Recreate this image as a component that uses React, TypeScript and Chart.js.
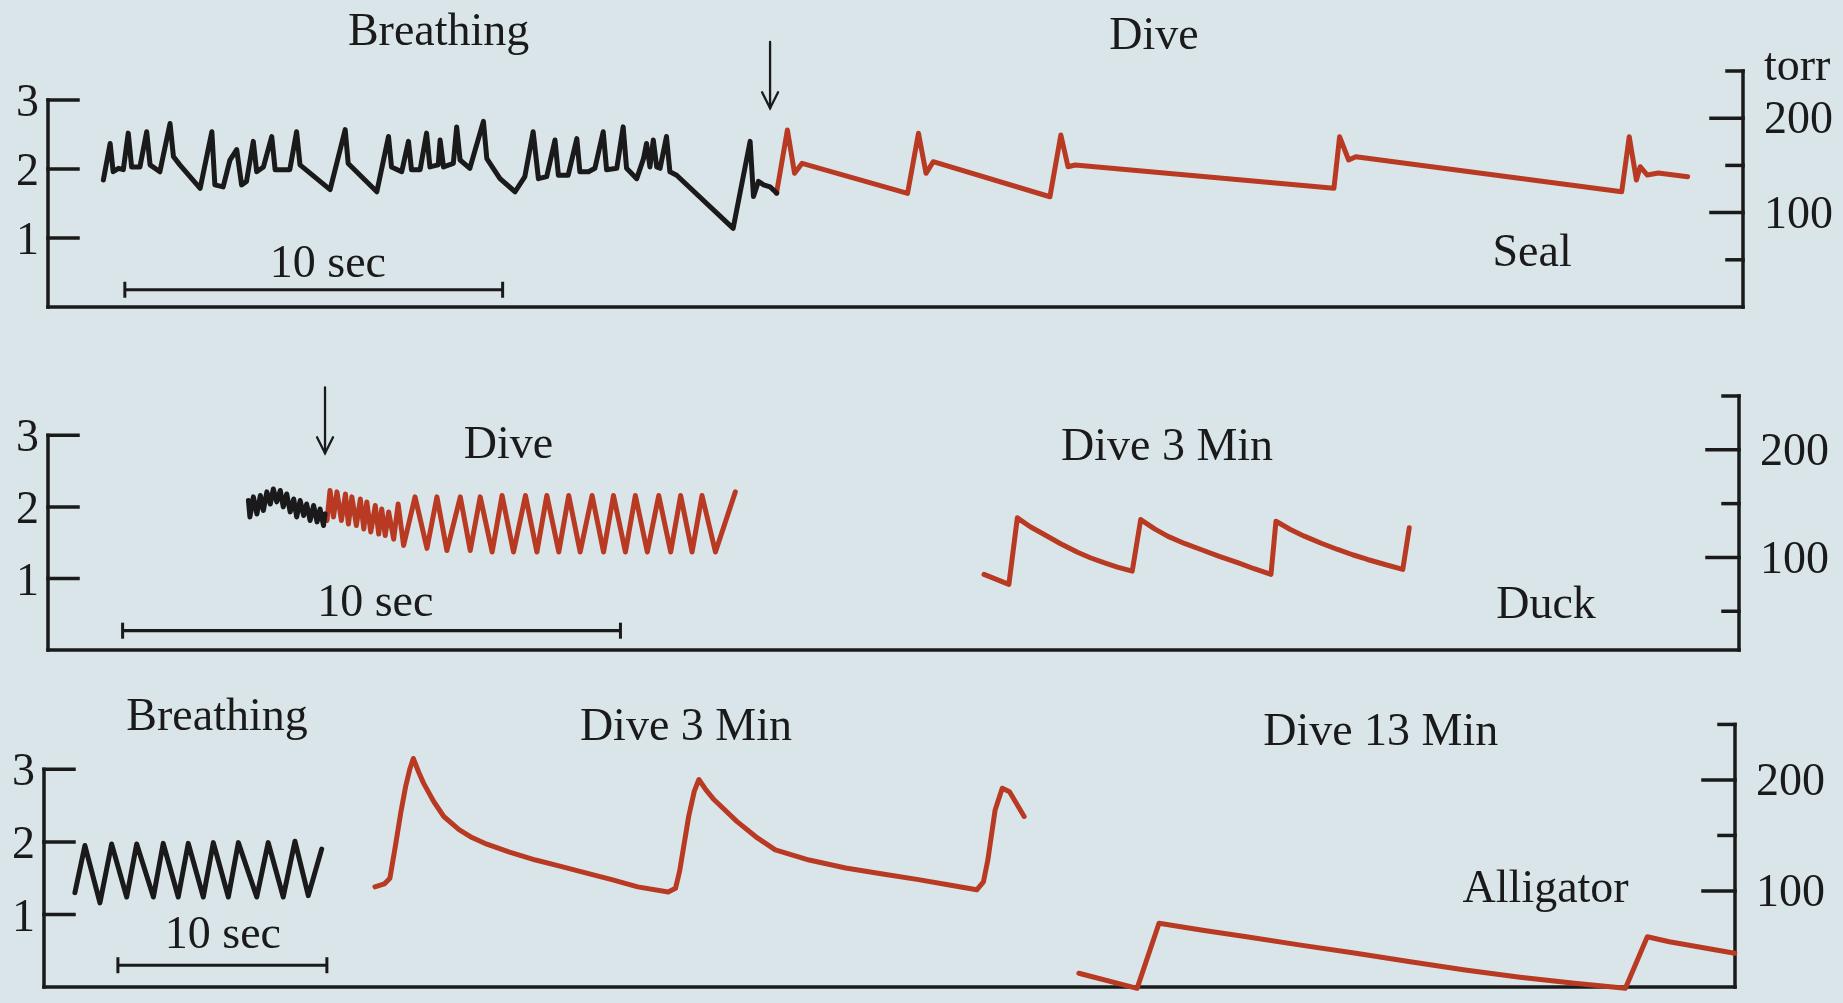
import React, { useEffect, useRef } from "react";
import { Chart, registerables } from "chart.js";

Chart.register(...registerables);

type Pt = [number, number];

// ---------------- Seal (time in s, left axis units / torr) ----------------
const sealBreathing: Pt[] = [
  [1.47, 1.84], [1.65, 2.37], [1.73, 1.96], [1.87, 2.01], [2.0, 1.99], [2.13, 2.52], [2.22, 2.03],
  [2.44, 2.03], [2.62, 2.54], [2.71, 2.06], [2.97, 1.96], [3.24, 2.66], [3.33, 2.18], [3.5, 2.06],
  [4.04, 1.72], [4.35, 2.54], [4.43, 1.77], [4.65, 1.74], [4.83, 2.13], [5.01, 2.28], [5.14, 1.77],
  [5.27, 1.82], [5.45, 2.4], [5.54, 1.96], [5.72, 2.03], [5.94, 2.47], [6.03, 1.99], [6.42, 1.99],
  [6.6, 2.54], [6.69, 2.06], [7.49, 1.7], [7.89, 2.57], [7.97, 2.08], [8.73, 1.67], [9.04, 2.47],
  [9.12, 2.03], [9.39, 1.96], [9.57, 2.4], [9.65, 1.99], [9.88, 1.99], [10.05, 2.52], [10.14, 2.03],
  [10.36, 2.06], [10.41, 2.42], [10.5, 2.03], [10.76, 2.08], [10.85, 2.61], [10.94, 2.13], [11.2, 2.01],
  [11.56, 2.69], [11.65, 2.15], [12.0, 1.86], [12.4, 1.67], [12.66, 1.89], [12.88, 2.54], [13.02, 1.86],
  [13.24, 1.89], [13.46, 2.42], [13.55, 1.91], [13.81, 1.91], [14.04, 2.44], [14.12, 1.96], [14.35, 1.96],
  [14.52, 2.01], [14.74, 2.54], [14.83, 1.99], [15.1, 2.01], [15.27, 2.61], [15.36, 2.01], [15.63, 1.86],
  [15.81, 2.15], [15.89, 2.37], [15.98, 2.03], [16.07, 2.42], [16.16, 2.03], [16.25, 2.01], [16.42, 2.47],
  [16.51, 1.96], [16.69, 1.91], [18.19, 1.14], [18.64, 2.4], [18.73, 1.6], [18.86, 1.82], [19.0, 1.77],
  [19.17, 1.74], [19.35, 1.65],
];
const sealDive: Pt[] = [
  [19.34, 120.4], [19.63, 187.5], [19.82, 141.6], [20.02, 152.2], [22.82, 120.4], [23.11, 184],
  [23.31, 141.6], [23.5, 153.9], [26.6, 116.8], [26.89, 182.2], [27.08, 148.6], [27.27, 150.4],
  [34.14, 125.7], [34.29, 180.4], [34.53, 155.7], [34.72, 159.2], [41.78, 122.1], [41.98, 180.4],
  [42.17, 134.5], [42.27, 148.6], [42.46, 139.8], [42.75, 142], [43.53, 138],
];

// ---------------- Duck ----------------
const duckBreathing: Pt[] = [
  [4.03, 2.09], [4.06, 1.86], [4.13, 2.14], [4.2, 1.9], [4.27, 2.16], [4.33, 1.95], [4.4, 2.21],
  [4.47, 2.04], [4.53, 2.25], [4.6, 2.07], [4.67, 2.23], [4.73, 2.0], [4.8, 2.18], [4.87, 1.93],
  [4.94, 2.11], [5.0, 1.86], [5.07, 2.09], [5.14, 1.88], [5.2, 2.04], [5.27, 1.81], [5.34, 2.02],
  [5.41, 1.79], [5.47, 1.97], [5.54, 1.74], [5.57, 1.9],
];
const duckDive: Pt[] = [
  [5.57, 1.9], [5.61, 1.81], [5.67, 2.23], [5.74, 1.86], [5.81, 2.21], [5.9, 1.81], [5.98, 2.18],
  [6.04, 1.76], [6.11, 2.14], [6.2, 1.74], [6.28, 2.11], [6.35, 1.69], [6.41, 2.07], [6.49, 1.65],
  [6.58, 2.02], [6.65, 1.62], [6.71, 1.97], [6.78, 1.6], [6.85, 1.93], [6.95, 1.55], [7.04, 2.04],
  [7.15, 1.46], [7.38, 2.14], [7.62, 1.42], [7.82, 2.14], [8.02, 1.39], [8.29, 2.14], [8.49, 1.39],
  [8.69, 2.14], [8.93, 1.37], [9.13, 2.16], [9.36, 1.37], [9.6, 2.16], [9.83, 1.37], [10.03, 2.16],
  [10.27, 1.37], [10.47, 2.16], [10.7, 1.37], [10.94, 2.16], [11.17, 1.37], [11.37, 2.16], [11.61, 1.37],
  [11.81, 2.16], [12.05, 1.37], [12.28, 2.16], [12.52, 1.37], [12.72, 2.16], [12.95, 1.37], [13.15, 2.16],
  [13.42, 1.37], [13.82, 2.21],
];
const duckDive3Min: Pt[] = [
  [18.82, 84.3], [19.32, 75], [19.49, 136.8], [19.75, 128.5], [20.03, 121.3], [20.37, 112.5], [20.7, 104.8],
  [20.97, 99.5], [21.23, 95.1], [21.5, 91], [21.8, 87.3], [21.97, 135.2], [22.25, 126.5], [22.51, 119.8],
  [22.85, 113], [23.18, 107.4], [23.55, 101], [23.92, 95.1], [24.25, 89.5], [24.59, 84.3], [24.69, 133.6],
  [24.98, 126], [25.26, 119.8], [25.6, 113.2], [25.93, 107.4], [26.23, 102.5], [26.53, 98.1], [26.9, 93.2],
  [27.24, 88.9], [27.37, 127.5],
];

// ---------------- Alligator ----------------
const alligatorBreathing: Pt[] = [
  [1.48, 1.3], [1.96, 1.95], [2.68, 1.16], [3.24, 1.97], [3.96, 1.24], [4.44, 1.97], [5.24, 1.24],
  [5.71, 1.98], [6.43, 1.24], [6.91, 1.98], [7.63, 1.24], [8.11, 1.99], [8.83, 1.24], [9.31, 1.99],
  [10.19, 1.24], [10.74, 1.99], [11.46, 1.24], [12.02, 2.01], [12.66, 1.26], [13.3, 1.9],
];
const alligatorDive3Min: Pt[] = [
  [15.85, 1.38], [16.3, 1.42], [16.57, 1.5], [16.83, 1.94], [17.1, 2.42], [17.32, 2.76], [17.52, 3.0],
  [17.69, 3.15], [17.95, 2.96], [18.18, 2.81], [18.66, 2.56], [19.15, 2.35], [19.88, 2.17], [20.5, 2.06],
  [21.11, 1.98], [22.3, 1.86], [23.55, 1.75], [24.8, 1.66], [25.99, 1.57], [27.2, 1.48], [28.44, 1.38],
  [29.9, 1.31], [30.25, 1.36], [30.45, 1.6], [30.88, 2.35], [31.15, 2.7], [31.37, 2.86], [31.7, 2.72],
  [32.1, 2.58], [33.2, 2.28], [34.1, 2.07], [35.03, 1.89], [36.65, 1.75], [38.4, 1.64], [40.1, 1.56],
  [41.89, 1.48], [43.3, 1.41], [44.68, 1.34], [45.0, 1.45], [45.21, 1.75], [45.56, 2.44], [45.9, 2.74],
  [46.25, 2.69], [46.95, 2.35],
];
const alligatorDive13Min: Pt[] = [
  [49.57, 25.9], [52.36, 12.3], [53.41, 70.9], [55.5, 64.6], [57.6, 58.8], [60.2, 51.2], [62.84, 43.9],
  [65.45, 36.2], [68.07, 28.8], [70.7, 22.3], [73.31, 16.8], [75.75, 12.3], [76.8, 58.8], [77.85, 54.3],
  [80.99, 43.9],
];

// ---------------- Axis ticks ----------------
const leftTicks = [1, 2, 3];
const torrTicksFull = [50, 100, 150, 200, 250];
const torrTicksAlligator = [100, 150, 200, 250];
const torrLabelValues = [100, 200];

// ---------------- Styles ----------------
const PAGE_BG = "rgb(218,229,234)";
const INK = "#1a1a1a";
const RED = "#b93a22";
const FONT = '"Liberation Serif", "Times New Roman", serif';
const LABEL_SIZE = 46;
const TICK_SIZE = 46;

interface Series { data: Pt[]; color: string; axis: "yl" | "yr"; }
interface Label { text: string; x: number; y: number; }
interface PanelSpec {
  top: number; height: number;
  pad: { left: number; right: number; top: number; bottom: number };
  xMax: number; yl: [number, number]; yr: [number, number];
  series: Series[];
  torrTicks: number[];
  torrUnit: boolean;
  labels: Label[];
  bar: { x0: number; x1: number; y: number; lx: number; ly: number };
  arrow?: { x: number; y0: number; y1: number };
}

const panels: PanelSpec[] = [
  {
    top: 0, height: 330, pad: { left: 48, right: 100, top: 71, bottom: 23 },
    xMax: 45, yl: [0, 3.42], yr: [0, 250],
    series: [
      { data: sealBreathing, color: INK, axis: "yl" },
      { data: sealDive, color: RED, axis: "yr" },
    ],
    torrTicks: torrTicksFull, torrUnit: true,
    labels: [
      { text: "Breathing", x: 10.37, y: 3.8 },
      { text: "Dive", x: 29.36, y: 3.74 },
      { text: "Seal", x: 39.4, y: 0.59 },
    ],
    bar: { x0: 2.04, x1: 12.07, y: 0.25, lx: 7.43, ly: 0.43 },
    arrow: { x: 19.17, y0: 3.84, y1: 2.88 },
  },
  {
    top: 330, height: 340, pad: { left: 48, right: 104, top: 66, bottom: 20 },
    xMax: 34, yl: [0, 3.55], yr: [14, 250],
    series: [
      { data: duckBreathing, color: INK, axis: "yl" },
      { data: duckDive, color: RED, axis: "yl" },
      { data: duckDive3Min, color: RED, axis: "yr" },
    ],
    torrTicks: torrTicksFull, torrUnit: false,
    labels: [
      { text: "Dive", x: 9.26, y: 2.68 },
      { text: "Dive 3 Min", x: 22.5, y: 2.65 },
      { text: "Duck", x: 30.12, y: 0.45 },
    ],
    bar: { x0: 1.5, x1: 11.51, y: 0.27, lx: 6.58, ly: 0.47 },
    arrow: { x: 5.57, y0: 3.67, y1: 2.75 },
  },
  {
    top: 670, height: 333, pad: { left: 44, right: 108, top: 50, bottom: 16 },
    xMax: 81, yl: [0, 3.68], yr: [13.5, 254],
    series: [
      { data: alligatorBreathing, color: INK, axis: "yl" },
      { data: alligatorDive3Min, color: RED, axis: "yl" },
      { data: alligatorDive13Min, color: RED, axis: "yr" },
    ],
    torrTicks: torrTicksAlligator, torrUnit: false,
    labels: [
      { text: "Breathing", x: 8.29, y: 3.54 },
      { text: "Dive 3 Min", x: 30.75, y: 3.41 },
      { text: "Dive 13 Min", x: 64.03, y: 3.34 },
      { text: "Alligator", x: 71.93, y: 1.17 },
    ],
    bar: { x0: 3.54, x1: 13.55, y: 0.3, lx: 8.57, ly: 0.54 },
  },
];

const figurePlugin = {
  id: "figure",
  beforeDatasetsDraw(chart: any, _args: any, opts: any) {
    const spec: PanelSpec = opts.spec;
    if (!spec) return;
    const { ctx, chartArea } = chart;
    const sx = chart.scales.x;
    const yl = chart.scales.yl;
    const yr = chart.scales.yr;
    const L = chartArea.left;
    const R = chartArea.right;
    const B = chartArea.bottom;
    ctx.save();
    ctx.strokeStyle = INK;
    ctx.fillStyle = INK;
    ctx.lineCap = "square";
    const seg = (x1: number, y1: number, x2: number, y2: number, w = 3.5) => {
      ctx.lineWidth = w;
      ctx.beginPath();
      ctx.moveTo(x1, y1);
      ctx.lineTo(x2, y2);
      ctx.stroke();
    };
    // left axis
    ctx.font = `${TICK_SIZE}px ${FONT}`;
    const yTop = yl.getPixelForValue(Math.max(...leftTicks));
    seg(L, yTop, L, B);
    ctx.textAlign = "right";
    ctx.textBaseline = "middle";
    for (const v of leftTicks) {
      const y = yl.getPixelForValue(v);
      seg(L, y, L + 30, y);
      ctx.fillText(String(v), L - 9, y + 4);
    }
    // bottom axis
    seg(L, B, R, B);
    // right axis
    const tTop = Math.max(...spec.torrTicks);
    seg(R, yr.getPixelForValue(tTop), R, B);
    ctx.textAlign = "left";
    for (const t of spec.torrTicks) {
      const y = yr.getPixelForValue(t);
      const major = torrLabelValues.includes(t);
      seg(R - (major ? 32 : 16), y, R, y);
      if (major) ctx.fillText(String(t), R + 21, y + 3);
    }
    if (spec.torrUnit) {
      ctx.textBaseline = "alphabetic";
      ctx.fillText("torr", R + 21, yr.getPixelForValue(240));
    }
    // labels
    ctx.font = `${LABEL_SIZE}px ${FONT}`;
    ctx.textAlign = "center";
    ctx.textBaseline = "alphabetic";
    for (const lb of spec.labels) {
      ctx.fillText(lb.text, sx.getPixelForValue(lb.x), yl.getPixelForValue(lb.y));
    }
    // 10 sec scale bar
    const bx0 = sx.getPixelForValue(spec.bar.x0);
    const bx1 = sx.getPixelForValue(spec.bar.x1);
    const by = yl.getPixelForValue(spec.bar.y);
    ctx.lineCap = "butt";
    seg(bx0, by, bx1, by, 3.2);
    seg(bx0, by - 8, bx0, by + 8, 3);
    seg(bx1, by - 8, bx1, by + 8, 3);
    ctx.fillText("10 sec", sx.getPixelForValue(spec.bar.lx), yl.getPixelForValue(spec.bar.ly));
    // arrow
    if (spec.arrow) {
      const ax = sx.getPixelForValue(spec.arrow.x);
      const ay0 = yl.getPixelForValue(spec.arrow.y0);
      const ay1 = yl.getPixelForValue(spec.arrow.y1);
      ctx.lineCap = "round";
      seg(ax, ay0, ax, ay1, 2.3);
      ctx.lineWidth = 2.3;
      ctx.beginPath();
      ctx.moveTo(ax - 8, ay1 - 16);
      ctx.lineTo(ax, ay1);
      ctx.lineTo(ax + 8, ay1 - 16);
      ctx.stroke();
    }
    ctx.restore();
  },
};

function PanelChart({ spec }: { spec: PanelSpec }) {
  const ref = useRef<HTMLCanvasElement | null>(null);
  useEffect(() => {
    if (!ref.current) return;
    const chart = new Chart(ref.current, {
      type: "line",
      data: {
        datasets: spec.series.map((s) => ({
          data: s.data.map(([x, y]) => ({ x, y })),
          borderColor: s.color,
          backgroundColor: s.color,
          borderWidth: 5,
          pointRadius: 0,
          tension: 0,
          borderJoinStyle: "round" as const,
          borderCapStyle: "round" as const,
          yAxisID: s.axis,
          xAxisID: "x",
          clip: false as any,
        })),
      },
      options: {
        animation: false,
        responsive: false,
        devicePixelRatio: 1,
        parsing: false,
        layout: { padding: spec.pad },
        events: [],
        plugins: {
          legend: { display: false },
          tooltip: { enabled: false },
          title: { display: false },
          figure: { spec },
        } as any,
        scales: {
          x: { type: "linear", min: 0, max: spec.xMax, display: false },
          yl: { type: "linear", min: spec.yl[0], max: spec.yl[1], display: false, position: "left" },
          yr: { type: "linear", min: spec.yr[0], max: spec.yr[1], display: false, position: "right" },
        },
      },
      plugins: [figurePlugin],
    });
    return () => chart.destroy();
  }, [spec]);
  return (
    <canvas
      ref={ref}
      width={1843}
      height={spec.height}
      style={{ position: "absolute", left: 0, top: spec.top, width: 1843, height: spec.height, display: "block" }}
    />
  );
}

export default function App() {
  return (
    <div
      style={{
        position: "absolute",
        left: 0,
        top: 0,
        width: 1843,
        height: 1003,
        background: PAGE_BG,
        overflow: "hidden",
      }}
    >
      {panels.map((p, i) => (
        <PanelChart key={i} spec={p} />
      ))}
    </div>
  );
}
